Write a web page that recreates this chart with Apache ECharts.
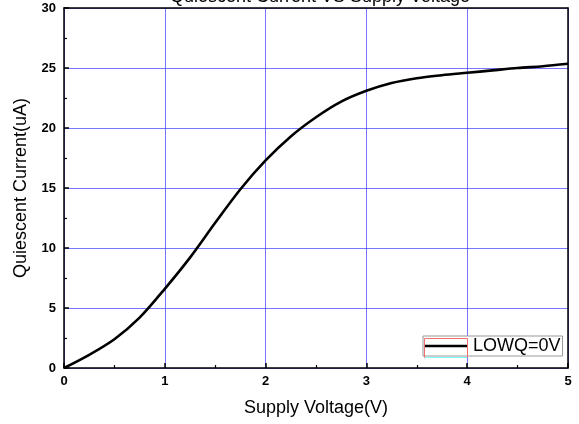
<!DOCTYPE html>
<html>
<head>
<meta charset="utf-8">
<script src="https://cdn.jsdelivr.net/npm/echarts@6.0.0/dist/echarts.min.js"></script>
<style>
  html, body { margin: 0; padding: 0; background: #fff; }
  #chart { width: 579px; height: 424px; }
</style>
</head>
<body>
<div id="chart"></div>
<script>
const voltage = [0, 0.25, 0.5, 0.75, 1, 1.25, 1.5, 1.75, 2, 2.25, 2.5, 2.75, 3, 3.25, 3.5, 3.75, 4, 4.25, 4.5, 4.75, 5];
const current = [0, 1.1, 2.4, 4.2, 6.6, 9.2, 12.1, 14.9, 17.3, 19.3, 20.9, 22.2, 23.1, 23.75, 24.15, 24.4, 24.6, 24.8, 25.0, 25.15, 25.35];
const seriesName = 'LOWQ=0V';

const chart = echarts.init(document.getElementById('chart'));

const font = '"Liberation Sans", Arial, sans-serif';
const black = { color: '#000', width: 1.5 };
const gridLine = { show: true, lineStyle: { color: 'rgba(60,60,255,0.7)', width: 1 } };
const tickLabel = { fontFamily: font, fontSize: 13, fontWeight: 'bold', color: '#000' };

// frame-only axes on top / right so the box is black all round
const frameAxis = {
    type: 'value',
    axisLine: { show: true, onZero: false, lineStyle: black },
    axisTick: { show: false },
    axisLabel: { show: false },
    splitLine: { show: false }
};

chart.setOption({
    animation: false,
    backgroundColor: '#fff',
    title: {
        text: 'Quiescent Current VS Supply Voltage',
        left: 320,
        textAlign: 'center',
        top: -12,
        padding: 0,
        textStyle: { fontFamily: font, fontSize: 18, fontWeight: 'normal', color: '#000' }
    },
    grid: { left: 64, right: 11, top: 8, bottom: 56 },
    legend: {
        data: [seriesName],
        left: 423,
        top: 336,
        backgroundColor: '#fff',
        borderColor: '#999',
        borderWidth: 1,
        padding: [1, 2, 1, 1],
        itemWidth: 44,
        itemHeight: 21,
        itemGap: 0,
        icon: 'path://M0,10 L44,10 L44,12.5 L0,12.5 Z',
        textStyle: { fontFamily: font, fontSize: 18, color: '#000' }
    },
    graphic: [{
        type: 'rect',
        z: 100,
        shape: { x: 424.5, y: 338.5, width: 43, height: 19 },
        style: { fill: 'none', stroke: '#f07070', lineWidth: 1 }
    }, {
        type: 'line',
        z: 101,
        shape: { x1: 425, y1: 357.5, x2: 467, y2: 357.5 },
        style: { stroke: '#80ffff', lineWidth: 1 }
    }],
    xAxis: [{
        type: 'value',
        min: 0, max: 5, interval: 1,
        name: 'Supply Voltage(V)',
        nameLocation: 'middle',
        nameGap: 31,
        nameTextStyle: { fontFamily: font, fontSize: 18, color: '#000' },
        axisLine: { show: true, onZero: false, lineStyle: black },
        axisTick: { inside: true, length: 5, lineStyle: black },
        minorTick: { show: true, splitNumber: 2, length: 3, lineStyle: { color: '#000', width: 1.2 } },
        axisLabel: Object.assign({ margin: 7 }, tickLabel),
        splitLine: gridLine
    }, Object.assign({ position: 'top', min: 0, max: 5 }, frameAxis)],
    yAxis: [{
        type: 'value',
        min: 0, max: 30, interval: 5,
        name: 'Quiescent Current(uA)',
        nameLocation: 'middle',
        nameGap: 34,
        nameTextStyle: { fontFamily: font, fontSize: 18, color: '#000' },
        axisLine: { show: true, onZero: false, lineStyle: black },
        axisTick: { inside: true, length: 5, lineStyle: black },
        minorTick: { show: true, splitNumber: 2, length: 3, lineStyle: { color: '#000', width: 1.2 } },
        axisLabel: Object.assign({ margin: 8 }, tickLabel),
        splitLine: gridLine
    }, Object.assign({ position: 'right', min: 0, max: 30 }, frameAxis)],
    series: [{
        name: seriesName,
        type: 'line',
        smooth: 0.3,
        showSymbol: false,
        data: voltage.map((v, i) => [v, current[i]]),
        itemStyle: { color: '#000' },
        lineStyle: { color: '#000', width: 2.6 }
    }]
});
</script>
</body>
</html>
